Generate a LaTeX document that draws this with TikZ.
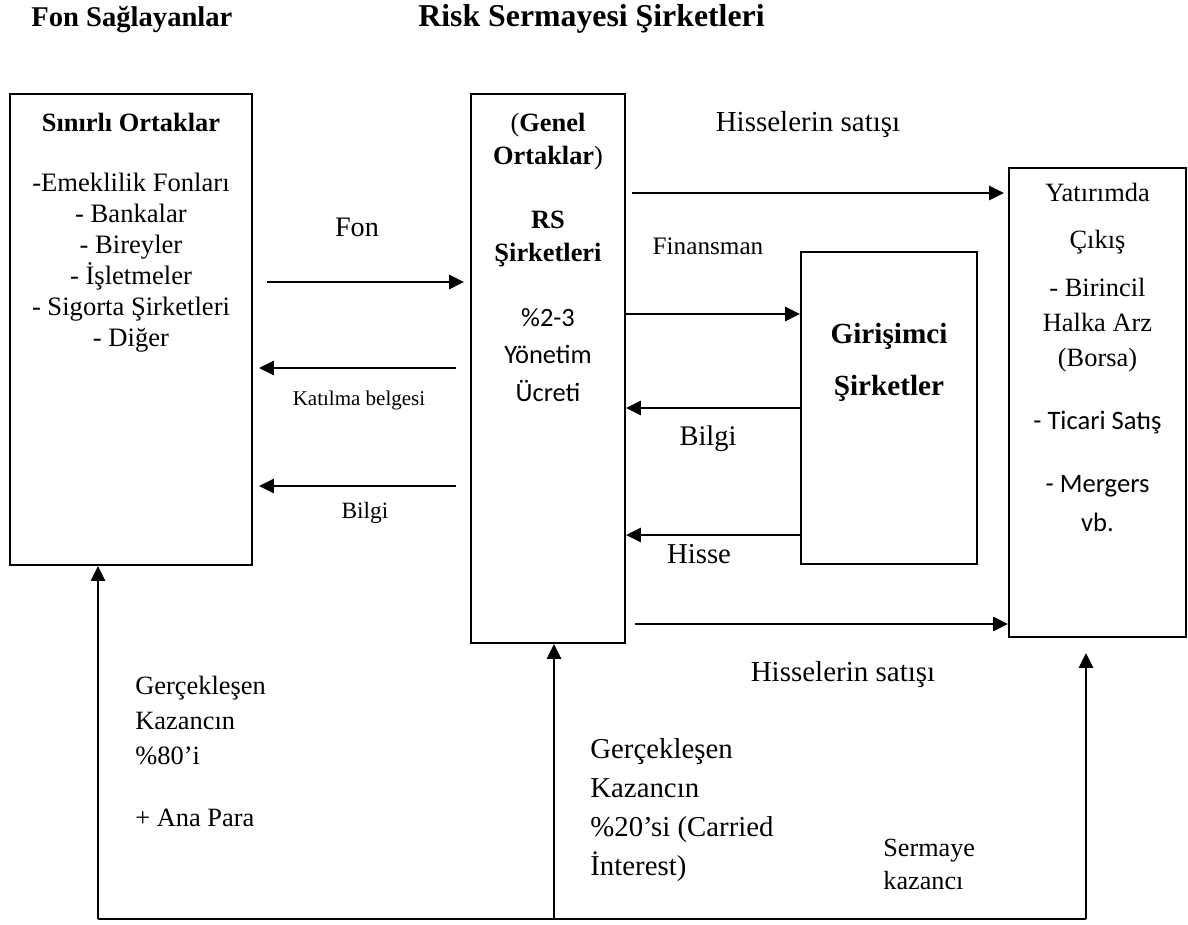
\documentclass[tikz,border=0pt]{standalone}
\usepackage{fontspec}
\setmainfont{Liberation Serif}
\newfontfamily\calibri{Carlito}
\usetikzlibrary{arrows.meta}

\begin{document}
\begin{tikzpicture}[x=0.5pt, y=-0.5pt,
		box/.style={draw, line width=0.9pt, inner sep=0pt},
		flow/.style={line width=1.2pt, -{Triangle[length=7.5pt,width=7pt]}},
		txt/.style={inner sep=0pt, anchor=base, align=center}]
		\useasboundingbox (0,0) rectangle (1188,925);
		% Titles (multi-line texts sit on the baseline of their last line):
		\node[txt, anchor=base west, font=\bfseries\fontsize{14.3}{17}\selectfont] (ttl1) at (31,27) {Fon Sağlayanlar};
		\node[txt, anchor=base west, font=\bfseries\fontsize{15.9}{19}\selectfont] (ttl2) at (418,27) {Risk Sermayesi Şirketleri};
		% Boxes and their texts:
		\node[box, minimum width=121pt, minimum height=235.5pt] (lp) at (131,329.5) {};
		\node[txt, font=\bfseries\fontsize{13.2}{16}\selectfont] (lpt) at (131,132) {Sınırlı Ortaklar};
		\node[txt, font=\fontsize{13.3}{15.5}\selectfont] (lpl) at (131,346) {-Emeklilik Fonları\\- Bankalar\\- Bireyler\\- İşletmeler\\- Sigorta Şirketleri\\- Diğer};
		\node[box, minimum width=77pt, minimum height=274.5pt] (rs) at (548,368.5) {};
		\node[txt, font=\fontsize{13.2}{16.5}\selectfont] (rst) at (548,165) {(\textbf{Genel}\\\textbf{Ortaklar})};
		\node[txt, font=\bfseries\fontsize{13.2}{16.5}\selectfont] (rsn) at (548,262) {RS\\Şirketleri};
		\node[txt, font=\calibri\fontsize{13.2}{18.75}\selectfont] (rsf) at (548,401) {\%2-3\\Yönetim\\Ücreti};
		\node[box, minimum width=88pt, minimum height=156pt] (gs) at (889,408) {};
		\node[txt, font=\bfseries\fontsize{14.6}{26}\selectfont] (gst) at (889,395) {Girişimci\\Şirketler};
		\node[box, minimum width=88.5pt, minimum height=234.5pt] (ex) at (1097.5,402.5) {};
		\node[txt, font=\fontsize{13.2}{23.5}\selectfont] (ext) at (1097.5,249) {Yatırımda\\Çıkış};
		\node[txt, font=\fontsize{13.2}{17.5}\selectfont] (exb) at (1097.5,366) {- Birincil\\Halka Arz\\(Borsa)};
		\node[txt, font=\calibri\fontsize{13.3}{16}\selectfont] (exs) at (1097.5,429) {- Ticari Satış};
		\node[txt, font=\calibri\fontsize{13.3}{19.5}\selectfont] (exm) at (1097.5,531) {- Mergers\\vb.};
		% Arrows between the boxes:
		\coordinate (fonS) at (267,282);
		\draw[flow, shorten >=3pt] (fonS) -- (rs.west |- fonS);
		\node[txt, font=\fontsize{14.1}{17}\selectfont] (fon) at (357,237) {Fon};
		\coordinate (katS) at (456,368);
		\draw[flow, shorten >=3pt] (katS) -- (lp.east |- katS);
		\node[txt, font=\fontsize{10.5}{13}\selectfont] (kat) at (359,405) {Katılma belgesi};
		\coordinate (bilS) at (456,486);
		\draw[flow, shorten >=3pt] (bilS) -- (lp.east |- bilS);
		\node[txt, font=\fontsize{11.7}{14}\selectfont] (bil1) at (365,518) {Bilgi};
		\coordinate (satS) at (632,193);
		\draw[flow, shorten >=2pt] (satS) -- (ex.west |- satS);
		\node[txt, font=\fontsize{14.5}{17}\selectfont] (sat1) at (808,132) {Hisselerin satışı};
		\coordinate (finY) at (0,314);
		\draw[flow] (rs.east |- finY) -- (gs.west |- finY);
		\node[txt, font=\fontsize{12.6}{15}\selectfont] (fin) at (708,255) {Finansman};
		\coordinate (bilY) at (0,408);
		\draw[flow] (gs.west |- bilY) -- (rs.east |- bilY);
		\node[txt, font=\fontsize{14.2}{17}\selectfont] (bil2) at (708,445) {Bilgi};
		\coordinate (hisY) at (0,535);
		\draw[flow] (gs.west |- hisY) -- (rs.east |- hisY);
		\node[txt, font=\fontsize{14.4}{17}\selectfont] (his) at (699,563) {Hisse};
		\coordinate (satB) at (635,624);
		\draw[flow] (satB) -- (ex.west |- satB);
		\node[txt, font=\fontsize{14.5}{17}\selectfont] (sat2) at (843,681) {Hisselerin satışı};
		% Returns from the bottom line:
		\coordinate (botL) at (98,919);
		\coordinate (botM) at (554,919);
		\coordinate (botR) at (1086,919);
		\draw[line width=1.2pt] (botL) -- (botR);
		\draw[flow] (botL) -- (botL |- lp.south);
		\draw[flow] (botM) -- (botM |- rs.south);
		\draw[flow, shorten >=7.5pt] (botR) -- (botR |- ex.south);
		\node[txt, anchor=base west, align=left, font=\fontsize{13.2}{17.5}\selectfont] (gain1) at (135,764) {Gerçekleşen\\Kazancın\\\%80’i};
		\node[txt, anchor=base west, font=\fontsize{13.2}{17.5}\selectfont] (ana) at (135,826) {+ Ana Para};
		\node[txt, anchor=base west, align=left, font=\fontsize{14.4}{19.5}\selectfont] (gain2) at (590,875) {Gerçekleşen\\Kazancın\\\%20’si (Carried\\İnterest)};
		\node[txt, anchor=base west, align=left, font=\fontsize{13.1}{16.5}\selectfont] (cap) at (883,889) {Sermaye\\kazancı};
	\end{tikzpicture}
\end{document}
